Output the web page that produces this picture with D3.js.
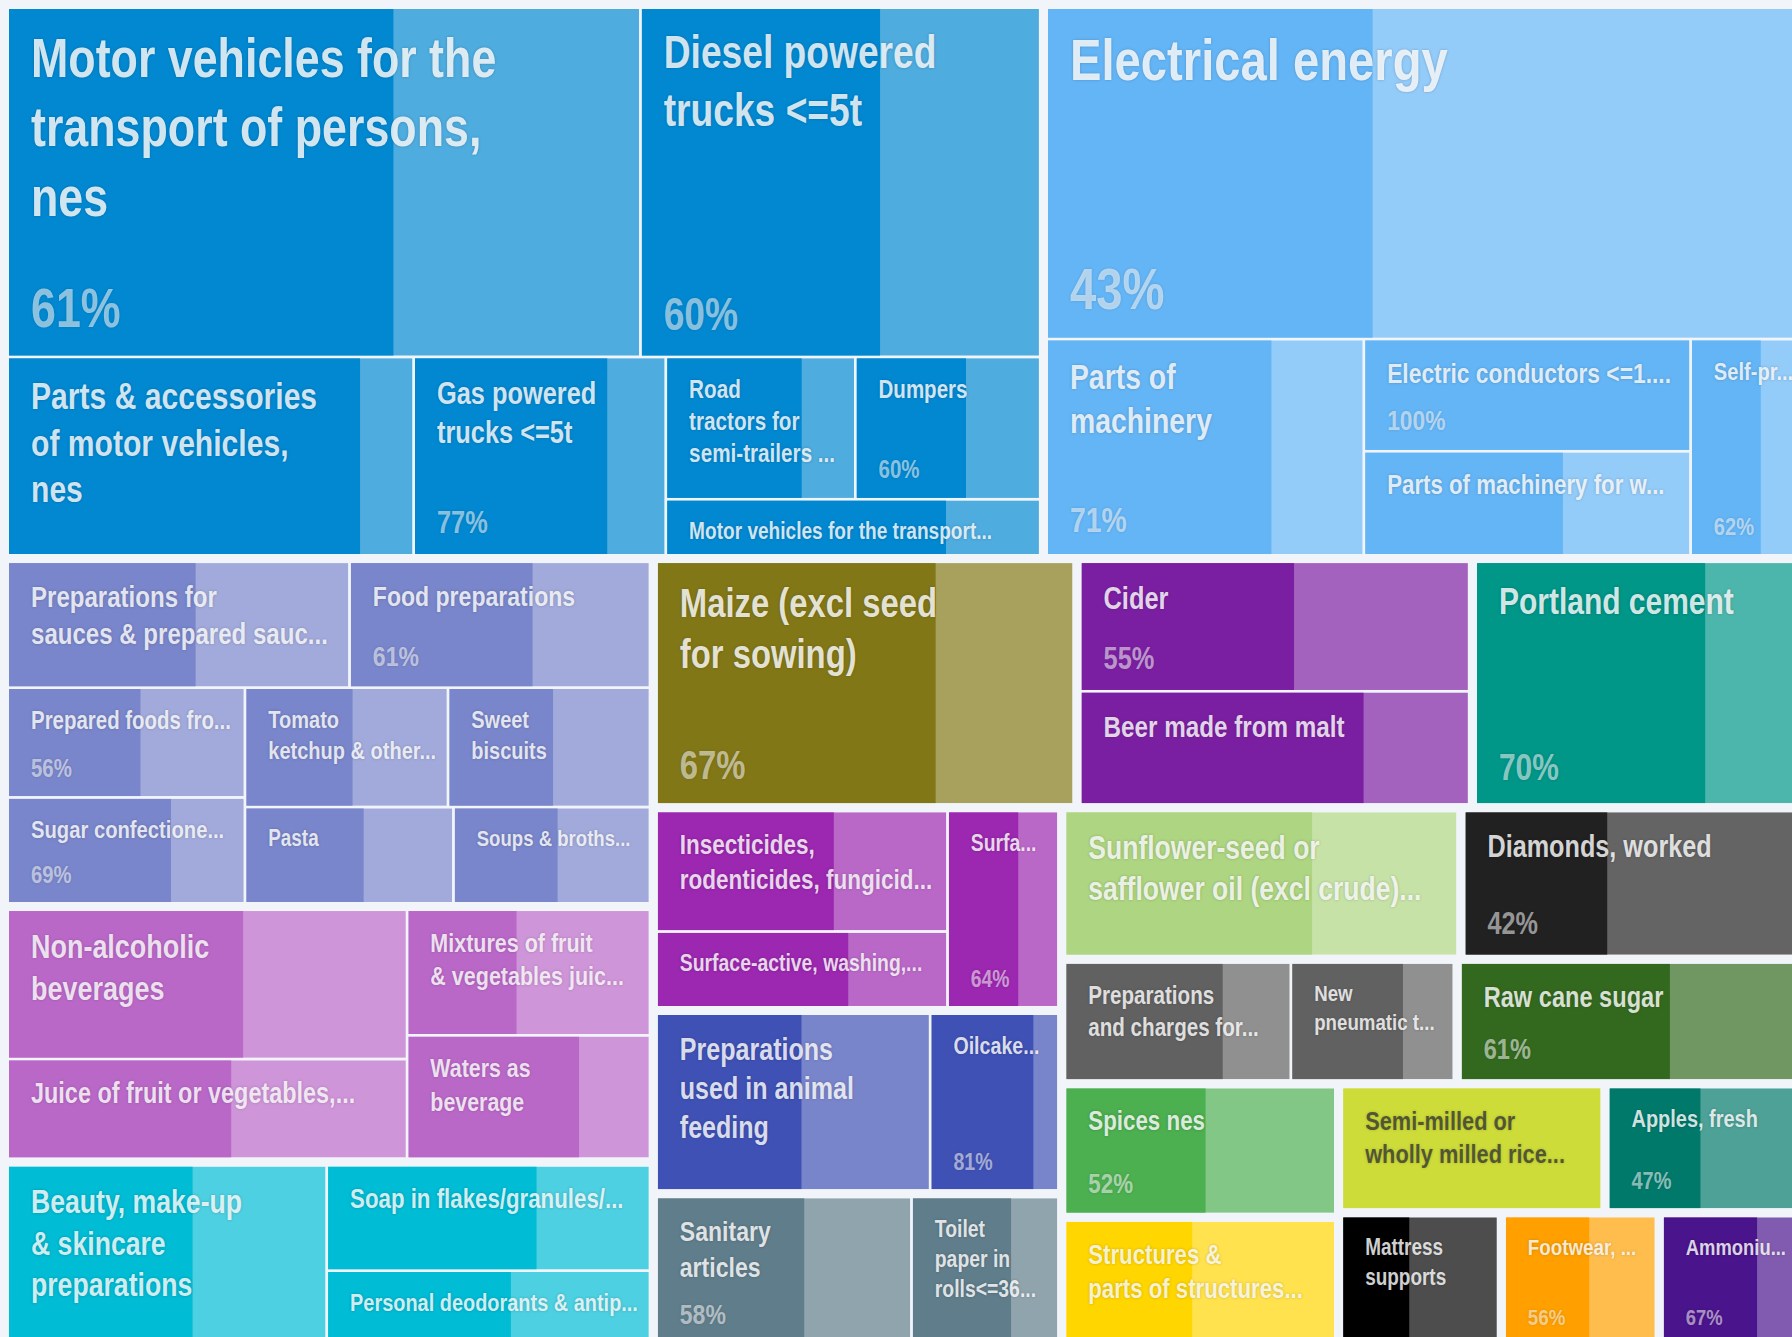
<!DOCTYPE html>
<html>
<head>
<meta charset="utf-8">
<script src="https://cdn.jsdelivr.net/npm/d3@7"></script>
<style>
html, body { margin: 0; padding: 0; background: #f1f5fa; overflow: hidden; }
svg { display: block; }
</style>
</head>
<body>
<div id="chart"></div>
<script>
// product groups (colour families)
const groups = ['vehicles', 'electrical', 'food', 'beverages', 'beauty', 'maize', 'malt',
    'cement', 'chemicals', 'feed', 'paper', 'oils', 'diamonds', 'rubber', 'sugar',
    'spices', 'metals', 'rice', 'apples', 'furniture', 'footwear', 'fertilizers'];

// products, as the labels read on the tiles
const products = [
    'Motor vehicles for the\ntransport of persons,\nnes', 'Diesel powered\ntrucks <=5t',
    'Parts & accessories\nof motor vehicles,\nnes', 'Gas powered\ntrucks <=5t',
    'Road\ntractors for\nsemi-trailers ...', 'Dumpers', 'Motor vehicles for the transport...',
    'Electrical energy', 'Parts of\nmachinery', 'Electric conductors <=1....',
    'Parts of machinery for w...', 'Self-pr...',
    'Preparations for\nsauces & prepared sauc...', 'Food preparations', 'Prepared foods fro...',
    'Sugar confectione...', 'Tomato\nketchup & other...', 'Sweet\nbiscuits', 'Pasta', 'Soups & broths...',
    'Non-alcoholic\nbeverages', 'Juice of fruit or vegetables,...', 'Mixtures of fruit\n& vegetables juic...',
    'Waters as\nbeverage',
    'Beauty, make-up\n& skincare\npreparations', 'Soap in flakes/granules/...', 'Personal deodorants & antip...',
    'Maize (excl seed\nfor sowing)',
    'Cider', 'Beer made from malt',
    'Portland cement',
    'Insecticides,\nrodenticides, fungicid...', 'Surface-active, washing,...', 'Surfa...',
    'Preparations\nused in animal\nfeeding', 'Oilcake...',
    'Sanitary\narticles', 'Toilet\npaper in\nrolls<=36...',
    'Sunflower-seed or\nsafflower oil (excl crude)...',
    'Diamonds, worked',
    'Preparations\nand charges for...', 'New\npneumatic t...',
    'Raw cane sugar',
    'Spices nes',
    'Structures &\nparts of structures...',
    'Semi-milled or\nwholly milled rice...',
    'Apples, fresh',
    'Mattress\nsupports',
    'Footwear, ...',
    'Ammoniu...'
];
const productGroup = [0, 0, 0, 0, 0, 0, 0, 1, 1, 1, 1, 1, 2, 2, 2, 2, 2, 2, 2, 2, 3, 3, 3, 3, 4, 4, 4,
    5, 6, 6, 7, 8, 8, 8, 9, 9, 10, 10, 11, 12, 13, 13, 14, 15, 16, 17, 18, 19, 20, 21];
// trade value (USD 100k)
const productValue = [1722, 1088, 628, 390, 210, 205, 164, 1961, 536, 286, 266, 192,
    339, 298, 205, 198, 191, 190, 158, 149, 473, 316, 242, 238, 460, 273, 193,
    808, 402, 352, 639, 282, 177, 175, 390, 183, 307, 177, 463, 402, 219, 158, 334,
    283, 278, 263, 200, 169, 164, 154];
// share of the top partner (%)
const productShare = [61, 60, 87, 77, 72, 60, 75, 43, 71, 100, 61, 62,
    55, 61, 56, 69, 53, 52, 57, 53, 59, 56, 45, 71, 58, 65, 57,
    67, 55, 73, 70, 61, 66, 64, 53, 81, 58, 68, 63, 42, 70, 69, 61,
    52, 47, 100, 47, 43, 56, 67];
const shareShown = [1, 1, 0, 1, 0, 1, 0, 1, 1, 1, 0, 1,
    0, 1, 1, 1, 0, 0, 0, 0, 0, 0, 0, 0, 0, 0, 0,
    1, 1, 0, 1, 0, 0, 1, 0, 1, 1, 0, 0, 1, 0, 0, 1,
    1, 0, 0, 1, 0, 1, 1];

// styles
const groupColor = ['#0288d1', '#64b5f6', '#7986cb', '#ba68c8', '#00bcd4', '#827717', '#7b1fa2',
    '#009688', '#9c27b0', '#3f51b5', '#607d8b', '#aed581', '#212121', '#616161', '#33691e',
    '#4caf50', '#ffd600', '#cddc39', '#00796b', '#000000', '#ffa000', '#4a148c'];
const darkText = ['rice'];

// strip order of the tiles: r = band across the top, c = column at the left
const strips = {
    root: [['r', 2], ['c', 3], ['r', 3], ['c', 3], ['r', 2], ['r', 2], ['c', 2], ['r', 2], ['r', 3]],
    vehicles: [['r', 2], ['c', 1], ['c', 1], ['r', 2], ['r', 1]],
    electrical: [['r', 1], ['c', 1], ['c', 2], ['c', 1]],
    food: [['r', 2], ['c', 2], ['r', 2], ['r', 2]],
    beverages: [['c', 2], ['c', 2]],
    beauty: [['c', 1], ['c', 2]],
    malt: [['r', 1], ['r', 1]],
    chemicals: [['c', 2], ['c', 1]],
    feed: [['c', 1], ['c', 1]],
    paper: [['c', 1], ['c', 1]],
    rubber: [['c', 1], ['c', 1]]
};

const width = 1812, height = 1353;

function stripTile(node, x0, y0, x1, y1) {
    const plan = strips[node.data.name] || [['r', node.children.length]];
    let i = 0, value = node.value;
    plan.forEach(([dir, n]) => {
        const row = {children: node.children.slice(i, i + n)};
        row.value = d3.sum(row.children, d => d.value);
        i += n;
        if (dir === 'r') {
            const y = value ? y0 + (y1 - y0) * row.value / value : y1;
            d3.treemapDice(row, x0, y0, x1, y);
            y0 = y;
        } else {
            const x = value ? x0 + (x1 - x0) * row.value / value : x1;
            d3.treemapSlice(row, x0, y0, x, y1);
            x0 = x;
        }
        value -= row.value;
    });
}

const data = {
    name: 'root',
    children: groups.map((g, gi) => ({
        name: g,
        color: groupColor[gi],
        children: products.map((p, i) => ({
            name: p, value: productValue[i], share: productShare[i], shown: shareShown[i], group: productGroup[i]
        })).filter(d => d.group === gi)
    }))
};

const root = d3.hierarchy(data)
    .sum(d => d.children ? 0 : d.value)
    .sort((a, b) => b.value - a.value);

d3.treemap()
    .size([width, height])
    .tile(stripTile)
    .paddingInner(d => d.depth === 0 ? 9 : 2.5)
    .paddingOuter(d => d.depth === 0 ? 9 : 0)(root);

// narrow bold face, or a squeezed regular one if it is missing
function hasFont(name) {
    const c = document.createElement('canvas').getContext('2d');
    const s = 'abcdefghijklmnopqrstuvwxyz';
    c.font = 'bold 40px monospace';
    const a = c.measureText(s).width;
    c.font = 'bold 40px "' + name + '", monospace';
    return c.measureText(s).width !== a;
}
const narrow = hasFont('Liberation Sans Narrow');
const fontFamily = narrow ? '"Liberation Sans Narrow", "Arial Narrow", sans-serif' : '"Liberation Sans", Arial, sans-serif';
const squeeze = narrow ? 1 : 0.82;

const svg = d3.select('#chart').append('svg')
    .attr('width', width)
    .attr('height', height);

const leaves = svg.selectAll('g.leaf')
    .data(root.leaves())
    .enter()
    .append('g')
    .attr('class', 'leaf')
    .attr('transform', d => 'translate(' + d.x0 + ',' + d.y0 + ')');

leaves.append('clipPath')
    .attr('id', (d, i) => 'clip' + i)
    .append('rect')
    .attr('width', d => d.x1 - d.x0)
    .attr('height', d => d.y1 - d.y0);

leaves.attr('clip-path', (d, i) => 'url(#clip' + i + ')');

// whole tile in the light tint, partner share in the full colour
leaves.append('rect')
    .attr('width', d => d.x1 - d.x0)
    .attr('height', d => d.y1 - d.y0)
    .attr('fill', d => d3.interpolateRgb(d.parent.data.color, '#fff')(0.3));

leaves.append('rect')
    .attr('width', d => (d.x1 - d.x0) * d.data.share / 100)
    .attr('height', d => d.y1 - d.y0)
    .attr('fill', d => d.parent.data.color);

function fontSize(d) {
    return 9.7 + 0.0961 * Math.sqrt((d.x1 - d.x0) * (d.y1 - d.y0));
}

const labels = leaves.append('g')
    .attr('transform', 'translate(22,0) scale(' + squeeze + ',1)')
    .style('font-family', fontFamily)
    .style('font-weight', 'bold')
    .style('text-shadow', '0 0 3px rgba(0,0,0,0.25)');

labels.append('text')
    .attr('font-size', fontSize)
    .attr('fill', d => darkText.includes(d.parent.data.name) ? '#333' : '#fff')
    .attr('fill-opacity', d => darkText.includes(d.parent.data.name) ? 0.75 : 0.82)
    .each(function (d) {
        const fs = fontSize(d);
        d3.select(this).selectAll('tspan')
            .data(d.data.name.split('\n'))
            .enter()
            .append('tspan')
            .attr('x', 0)
            .attr('y', (l, i) => 16 + 0.95 * fs + i * 1.27 * fs)
            .text(l => l);
    });

labels.filter(d => d.data.shown)
    .append('text')
    .attr('font-size', fontSize)
    .attr('fill', '#fff')
    .attr('fill-opacity', 0.55)
    .attr('y', d => (d.y1 - d.y0) - 12 - 0.3 * fontSize(d))
    .text(d => d.data.share + '%');
</script>
</body>
</html>
